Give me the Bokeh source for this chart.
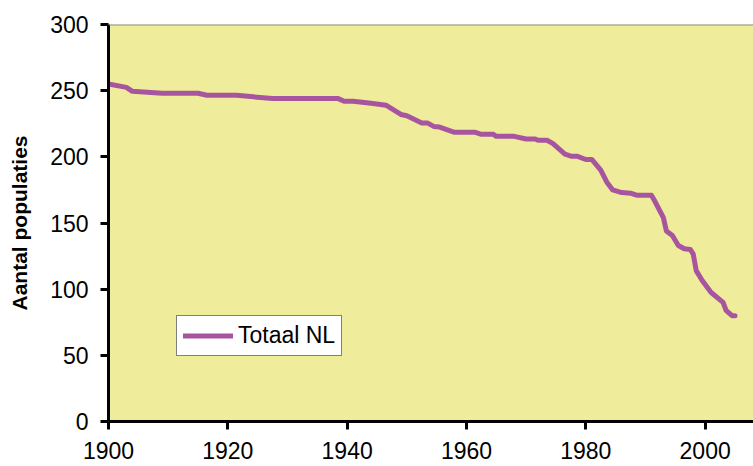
from bokeh.plotting import figure
from bokeh.models import Range1d, Span, Legend, LegendItem, FixedTicker
from bokeh.embed import file_html
from bokeh.resources import INLINE

years = [1900, 1903, 1904, 1909, 1915, 1916.5, 1921.5, 1927.5, 1938.5, 1939.5,
         1941, 1944, 1946.5, 1949, 1950, 1952.5, 1953.5, 1954.5, 1955.5, 1958,
         1961.5, 1962.5, 1964.5, 1965, 1968, 1970, 1971.5, 1972, 1973.5, 1974.5,
         1976.5, 1977.5, 1978.5, 1980, 1981, 1982.5, 1983.5, 1984.5, 1986, 1987.5,
         1988.5, 1991, 1991.5, 1993, 1993.5, 1994.5, 1995.5, 1996.5, 1997.5, 1998,
         1998.5, 1999.5, 2001, 2003, 2003.5, 2004.5, 2005]
totaal_nl = [255, 252.5, 249.5, 248, 248, 246.5, 246.5, 244, 244, 242,
             242, 240.5, 239, 232, 231, 225.5, 225.5, 223, 222.5, 218.5,
             218.5, 217, 217, 215.5, 215.5, 213.5, 213.5, 212.5, 212.5, 210,
             202, 200.5, 200.5, 198, 198, 190, 181, 175, 173, 172.5,
             171, 171, 167, 154, 144, 140.5, 133, 130.5, 130, 126.5,
             114, 106.5, 97.5, 90, 84, 80, 80]
x_ticks = [1900, 1920, 1940, 1960, 1980, 2000]
y_ticks = [0, 50, 100, 150, 200, 250, 300]
series_name = "Totaal NL"
y_title = "Aantal populaties"

FONT = "Liberation Sans"

p = figure(width=753, height=466, output_backend="svg", toolbar_location=None,
           x_range=Range1d(1900, 2008.1), y_range=Range1d(0, 300),
           min_border_left=108, min_border_right=0, min_border_top=24,
           min_border_bottom=45)

p.background_fill_color = "#EFEC9B"
p.border_fill_color = "white"
p.outline_line_color = None
p.grid.visible = False

line = p.line(years, totaal_nl, line_color="#A855A0", line_width=5,
              line_cap="round", line_join="round")

p.add_layout(Span(location=300, dimension="width", line_color="#8E8E8E", line_width=2))

for ax in (p.xaxis[0], p.yaxis[0]):
    ax.axis_line_color = "black"
    ax.axis_line_width = 3
    ax.major_tick_line_color = "black"
    ax.major_tick_line_width = 3
    ax.major_tick_out = 8
    ax.major_tick_in = 0
    ax.minor_tick_line_color = None
    ax.major_label_text_font = FONT
    ax.major_label_text_font_size = "23px"
    ax.major_label_text_color = "black"

p.xaxis[0].ticker = FixedTicker(ticks=x_ticks)
p.yaxis[0].ticker = FixedTicker(ticks=y_ticks)
p.xaxis[0].major_label_standoff = 12
p.yaxis[0].major_label_standoff = 12

p.yaxis[0].axis_label = y_title
p.yaxis[0].axis_label_text_font = FONT
p.yaxis[0].axis_label_text_font_size = "21px"
p.yaxis[0].axis_label_text_font_style = "bold"
p.yaxis[0].axis_label_text_color = "black"
p.yaxis[0].axis_label_standoff = 16

legend = Legend(items=[LegendItem(label=series_name, renderers=[line])],
                location=(68, 65))
legend.label_text_font = FONT
legend.label_text_font_size = "23px"
legend.label_text_color = "black"
legend.border_line_color = "black"
legend.border_line_width = 1.5
legend.background_fill_color = "white"
legend.background_fill_alpha = 1.0
legend.glyph_width = 50
legend.glyph_height = 27
legend.label_height = 27
legend.label_standoff = 5
legend.padding = 6
legend.spacing = 0
legend.margin = 0
p.add_layout(legend, "center")

open("out.html", "w").write(file_html(p, INLINE))
